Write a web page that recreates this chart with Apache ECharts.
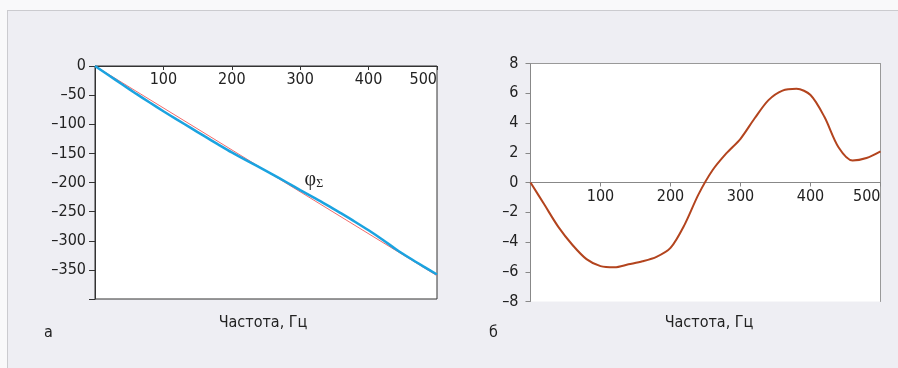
<!DOCTYPE html>
<html>
<head>
<meta charset="utf-8">
<script src="https://cdn.jsdelivr.net/npm/echarts@6/dist/echarts.min.js"></script>
<style>
html,body{margin:0;padding:0;background:#f9f9fa;overflow:hidden;}
#frame{position:absolute;left:7px;top:10px;width:910px;height:380px;background:#eeeef3;border:1px solid #cbcbcf;}
#main{position:absolute;left:0;top:0;width:898px;height:368px;}
</style>
</head>
<body>
<div id="frame"></div>
<div id="main"></div>
<script>
// частота, Гц
var freq = [0, 20, 40, 60, 80, 100, 120, 140, 160, 180, 200, 220, 240, 260, 280, 300, 320, 340, 360, 380, 400, 420, 440, 460, 480, 500];
// а: фаза φΣ, град
var phaseSum = [0, -15.9, -31.8, -47.5, -62.7, -77.6, -92.1, -106.3, -120.5, -134.6, -148.4, -161.3, -173.6, -186.4, -199.6, -213.1, -226.1, -239.2, -253.1, -267.3, -282.1, -297.9, -314.5, -329.7, -344.0, -357.9];
// а: линейная фаза (красная)
var linFreq = [0, 500];
var linPhase = [0, -360];
// б: отклонение фазы, град
var phaseDev = [0, -1.5, -3.0, -4.2, -5.15, -5.62, -5.7, -5.5, -5.3, -5.0, -4.4, -2.85, -0.8, 0.82, 1.97, 2.94, 4.3, 5.54, 6.18, 6.3, 5.88, 4.4, 2.37, 1.48, 1.65, 2.1];
// подписи осей
var xTicks = [100, 200, 300, 400, 500];
var yTicksA = [0, -50, -100, -150, -200, -250, -300, -350];
var yTicksB = [-8, -6, -4, -2, 0, 2, 4, 6, 8];

var FONT = "'Liberation Sans Narrow', 'DejaVu Sans Condensed', 'Roboto', sans-serif";
var txtColor = '#222';
var FS = 16;
var gridB = { left: 530.5, top: 63.5, width: 350, height: 238 };

function zip(a, b) {
	var res = [];
	for (var i = 0; i < a.length; i++) {
		res.push([a[i], b[i]]);
	}
	return res;
}
function fmt(list) {
	return function (v) {
		if (list.indexOf(v) < 0) return '';
		return String(v).replace('-', '–');
	};
}
function label(list, extra) {
	var o = { fontSize: FS, color: txtColor, fontFamily: FONT, formatter: fmt(list) };
	for (var k in extra) o[k] = extra[k];
	return o;
}
function plainText(str, x, y) {
	return { type: 'text', x: x, y: y, style: { text: str, font: FS + 'px ' + FONT, fill: txtColor, align: 'center', verticalAlign: 'middle' } };
}

var chart = echarts.init(document.getElementById('main'));
var option = {
	backgroundColor: 'transparent',
	animation: false,
	grid: [
		{ left: 95, top: 66, width: 342, height: 233, show: true, backgroundColor: '#fff', borderColor: '#333', borderWidth: 1 },
		{ left: gridB.left, top: gridB.top, width: gridB.width, height: gridB.height, show: true, backgroundColor: '#fff', borderWidth: 0 }
	],
	xAxis: [
		{
			gridIndex: 0, type: 'value', min: 0, max: 500, interval: 100, position: 'top',
			axisLine: { show: true, onZero: false, lineStyle: { color: '#333' } },
			axisTick: { show: true, inside: true, length: 4, lineStyle: { color: '#333' } },
			axisLabel: label(xTicks, { inside: true, margin: 6, alignMaxLabel: 'right' }),
			splitLine: { show: false }
		},
		{
			// ось через ноль (шкала y симметрична, ноль посередине)
			gridIndex: 1, type: 'value', min: 0, max: 500, interval: 100, position: 'bottom',
			offset: -gridB.height / 2,
			axisLine: { show: true, onZero: false, lineStyle: { color: '#888' } },
			axisTick: { show: true, length: 4, lineStyle: { color: '#888' } },
			axisLabel: label(xTicks, { margin: 6, alignMaxLabel: 'right' }),
			splitLine: { show: false }
		},
		{
			gridIndex: 1, type: 'value', min: 0, max: 500, position: 'top',
			axisLine: { show: true, onZero: false, lineStyle: { color: '#999' } },
			axisTick: { show: false }, axisLabel: { show: false }, splitLine: { show: false }
		}
	],
	yAxis: [
		{
			gridIndex: 0, type: 'value', min: -400, max: 0, interval: 50,
			axisLine: { show: true, onZero: false, lineStyle: { color: '#333' } },
			axisTick: { show: true, length: 6, lineStyle: { color: '#333' } },
			axisLabel: label(yTicksA, { margin: 9 }),
			splitLine: { show: false }
		},
		{
			gridIndex: 1, type: 'value', min: -8, max: 8, interval: 2, position: 'left',
			axisLine: { show: true, onZero: false, lineStyle: { color: '#888' } },
			axisTick: { show: true, length: 5, lineStyle: { color: '#888' } },
			axisLabel: label(yTicksB, { margin: 12 }),
			splitLine: { show: false }
		},
		{
			gridIndex: 1, type: 'value', min: -8, max: 8, position: 'right',
			axisLine: { show: true, onZero: false, lineStyle: { color: '#999' } },
			axisTick: { show: false }, axisLabel: { show: false }, splitLine: { show: false }
		}
	],
	series: [
		{
			type: 'line', xAxisIndex: 0, yAxisIndex: 0, data: zip(linFreq, linPhase),
			symbol: 'none', lineStyle: { color: '#f06a6a', width: 1 }
		},
		{
			type: 'line', xAxisIndex: 0, yAxisIndex: 0, data: zip(freq, phaseSum),
			symbol: 'none', smooth: 0.3, lineStyle: { color: '#1ba3e0', width: 2.5 },
			markPoint: {
				symbol: 'circle', symbolSize: 0, silent: true,
				label: {
					show: true, position: 'inside',
					formatter: '{a|φ}{b|Σ}',
					rich: {
						a: { fontFamily: "'Liberation Serif', serif", fontSize: 20, color: txtColor },
						b: { fontFamily: "'Liberation Serif', serif", fontSize: 12, color: txtColor, padding: [9, 0, 0, 0] }
					}
				},
				data: [{ coord: [320, -195] }]
			}
		},
		{
			type: 'line', xAxisIndex: 1, yAxisIndex: 1, data: zip(freq, phaseDev),
			symbol: 'none', smooth: 0.3, lineStyle: { color: '#b3441e', width: 2 }
		}
	],
	graphic: [
		plainText('Частота, Гц', 263, 323),
		plainText('Частота, Гц', 709, 323),
		plainText('а', 48.5, 333),
		plainText('б', 493.5, 333)
	]
};
chart.setOption(option);
</script>
</body>
</html>
